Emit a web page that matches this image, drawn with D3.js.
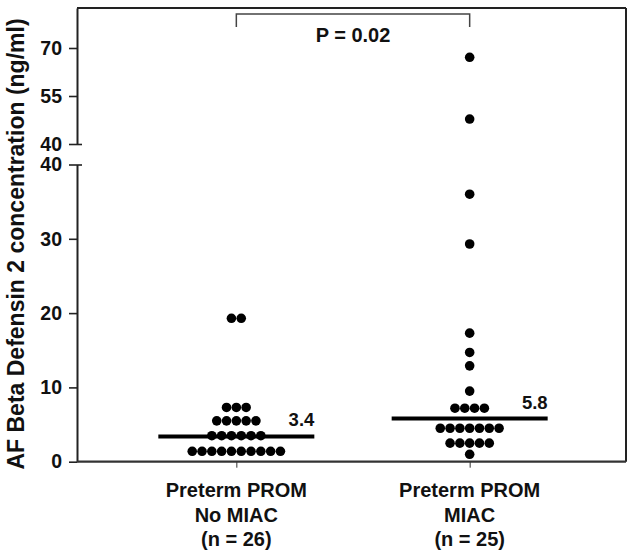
<!DOCTYPE html>
<html>
<head>
<meta charset="utf-8">
<script src="https://cdn.jsdelivr.net/npm/d3@7"></script>
<style>
  html, body { margin: 0; padding: 0; background: #fff; }
  svg { display: block; font-family: "Liberation Sans", Arial, Helvetica, sans-serif; }
</style>
</head>
<body>
<svg id="chart" width="635" height="557"></svg>
<script>
// ---------- data ----------
const categories = ["Preterm PROM No MIAC", "Preterm PROM MIAC"];
const categoryLabels = [
  ["Preterm PROM", "No MIAC", "(n = 26)"],
  ["Preterm PROM", "MIAC", "(n = 25)"]
];
const noMiacValues = [
  1.4, 1.4, 1.4, 1.4, 1.4, 1.4, 1.4, 1.4, 1.4, 1.4,
  3.5, 3.5, 3.5, 3.5, 3.5, 3.5,
  5.5, 5.5, 5.5, 5.5, 5.5,
  7.3, 7.3, 7.3,
  19.3, 19.3
];
const miacValues = [
  1.0,
  2.5, 2.5, 2.5, 2.5, 2.5,
  4.5, 4.5, 4.5, 4.5, 4.5, 4.5, 4.5,
  7.2, 7.2, 7.2, 7.2,
  9.5, 12.9, 14.7, 17.3, 29.3, 36.0, 47.8, 67.1
];
const medians = [3.4, 5.8];
const medianLabels = ["3.4", "5.8"];
const lowerTicks = [0, 10, 20, 30, 40];
const upperTicks = [40, 55, 70];
const pLabel = "P = 0.02";
const yTitle = "AF Beta Defensin 2 concentration (ng/ml)";

(function () {
// ---------- layout ----------
const svg = d3.select("#chart");
const pLeft = 77, pRight = 626, pTop = 8, pBottom = 461.7;
const breakLow = 164.5, breakHigh = 144;
const ink = "#111";

const x = d3.scalePoint().domain(categories).range([80, pRight]).padding(0.67);
const yLow = d3.scaleLinear().domain([0, 40]).range([pBottom, breakLow]);
const yHigh = d3.scaleLinear().domain([40, 82.5]).range([breakHigh, pTop]);
const yVal = v => v <= 40 ? yLow(v) : yHigh(v);

// frame (top + right)
svg.append("line").attr("x1", pLeft).attr("x2", pRight).attr("y1", pTop).attr("y2", pTop)
  .attr("stroke", "#222").attr("stroke-width", 2);
svg.append("line").attr("x1", pRight).attr("x2", pRight).attr("y1", pTop).attr("y2", pBottom)
  .attr("stroke", "#222").attr("stroke-width", 2);

// lower y axis
const gLow = svg.append("g").attr("transform", `translate(${pLeft},0)`)
  .call(d3.axisLeft(yLow).tickValues(lowerTicks).tickSize(8).tickSizeOuter(0).tickPadding(7));
// upper y axis
const gHigh = svg.append("g").attr("transform", `translate(${pLeft},0)`)
  .call(d3.axisLeft(yHigh).tickValues(upperTicks).tickSize(8).tickSizeOuter(0).tickPadding(7));

[gLow, gHigh].forEach(g => {
  g.select(".domain").attr("stroke", "#222").attr("stroke-width", 2);
  g.selectAll(".tick line").attr("stroke", "#222").attr("stroke-width", 1.6);
  g.selectAll(".tick text").attr("fill", ink).attr("font-size", 19.5).attr("font-weight", "bold")
    .attr("font-family", "'Liberation Sans', Arial, sans-serif");
});
// break ticks at 40 cross the axis
gLow.selectAll(".tick").filter(d => d === 40).select("line").attr("x1", 5);
gHigh.selectAll(".tick").filter(d => d === 40).select("line").attr("x1", 5);

// bottom axis
const gX = svg.append("g").attr("transform", `translate(0,${pBottom})`)
  .call(d3.axisBottom(x).tickSize(6).tickSizeOuter(0).tickFormat(""));
gX.select(".domain").remove();
gX.selectAll(".tick line").attr("stroke", "#333").attr("stroke-width", 1);
svg.append("line").attr("x1", pLeft).attr("x2", pRight).attr("y1", pBottom).attr("y2", pBottom)
  .attr("stroke", "#333").attr("stroke-width", 2.2);

// category labels
categoryLabels.forEach((lines, i) => {
  const t = svg.append("text")
    .attr("x", x(categories[i])).attr("y", 497)
    .attr("text-anchor", "middle").attr("font-size", 20).attr("font-weight", "bold").attr("fill", ink);
  lines.forEach((s, j) => {
    t.append("tspan").attr("x", x(categories[i])).attr("y", 497 + j * 24.5).text(s);
  });
});

// y title
svg.append("text")
  .attr("transform", `translate(24,244) rotate(-90)`)
  .attr("text-anchor", "middle").attr("font-size", 23).attr("font-weight", "bold").attr("fill", ink)
  .text(yTitle);

// dots (rows of equal values spread horizontally)
const r = 4.8, spacing = 9.8;
const groups = [noMiacValues, miacValues];
groups.forEach((vals, gi) => {
  const rows = d3.groups(vals, v => v);
  const pts = [];
  rows.forEach(([v, arr]) => {
    arr.forEach((_, k) => pts.push({ v, off: (k - (arr.length - 1) / 2) * spacing }));
  });
  svg.append("g").selectAll("circle").data(pts).join("circle")
    .attr("cx", d => x(categories[gi]) + d.off)
    .attr("cy", d => yVal(d.v))
    .attr("r", r)
    .attr("fill", "#000");
});

// medians
const halfW = 78;
medians.forEach((m, i) => {
  const cx = x(categories[i]);
  svg.append("line").attr("x1", cx - halfW).attr("x2", cx + halfW)
    .attr("y1", yLow(m)).attr("y2", yLow(m))
    .attr("stroke", "#000").attr("stroke-width", 4);
  svg.append("text").attr("x", cx + halfW).attr("y", yLow(m) - 10)
    .attr("text-anchor", "end").attr("font-size", 18.5).attr("font-weight", "bold").attr("fill", ink)
    .text(medianLabels[i]);
});

// significance bracket
const bx1 = x(categories[0]), bx2 = x(categories[1]);
svg.append("path")
  .attr("d", `M${bx1},27V14H${bx2}V27`)
  .attr("fill", "none").attr("stroke", "#444").attr("stroke-width", 1.5);
svg.append("text").attr("x", (bx1 + bx2) / 2).attr("y", 41.5)
  .attr("text-anchor", "middle").attr("font-size", 20).attr("font-weight", "bold").attr("fill", ink)
  .text(pLabel);
})();
</script>
</body>
</html>
